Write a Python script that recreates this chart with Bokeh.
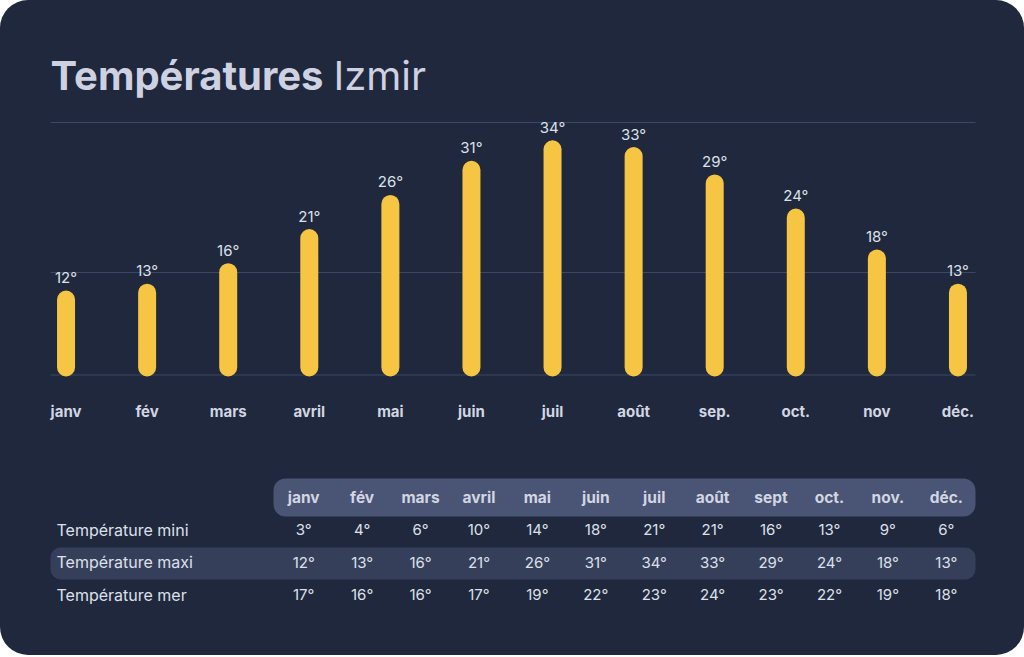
from bokeh.plotting import figure
from bokeh.layouts import column
from bokeh.models import Range1d, FactorRange
from bokeh.core.properties import value
from bokeh.embed import file_html
from bokeh.resources import INLINE

# ---------------- data ----------------
title_bold = "Températures"
title_city = "Izmir"
months = ["janv", "fév", "mars", "avril", "mai", "juin", "juil", "août", "sep.", "oct.", "nov", "déc."]
temp_max = [12, 13, 16, 21, 26, 31, 34, 33, 29, 24, 18, 13]
table_months = ["janv", "fév", "mars", "avril", "mai", "juin", "juil", "août", "sept", "oct.", "nov.", "déc."]
temp_min = [3, 4, 6, 10, 14, 18, 21, 21, 16, 13, 9, 6]
temp_sea = [17, 16, 16, 17, 19, 22, 23, 24, 23, 22, 19, 18]
row_names = ["Température mini", "Température maxi", "Température mer"]

# ---------------- style ----------------
FONT = "Inter"
BG = "#1f283c"
GRID = "#3b4764"
YELLOW = "#f5c543"
TITLE_C = "#cdd1e1"
TXT = "#dde0ea"
HEAD_BAND = "#4a5474"
MAXI_BAND = "#363f5a"

W = 1024
CH = 445          # chart figure height
TH = 210          # table figure height
L, R = 25, 26     # side borders (frames aligned by the column)
step = (W - L - R) / len(months)
base_py = 372     # page y of 0 degrees
ppd = 6.83        # pixels per degree


def cx(px):
    return (px - L) / step


def cy(py):
    return (base_py - py) / ppd


common = dict(output_backend="svg", toolbar_location=None,
              x_axis_location=None, y_axis_location=None,
              background_fill_alpha=0, border_fill_alpha=0,
              outline_line_color=None, min_border_top=0, min_border_bottom=0,
              min_border_left=L, min_border_right=R)

pA = figure(width=W, height=CH, x_range=FactorRange(factors=months),
            y_range=Range1d(cy(CH), cy(0)), **common)
pA.xgrid.visible = False
pA.ygrid.visible = False

# grid lines
gy = [cy(374.5), cy(272), cy(122)]
pA.segment(x0=[cx(50)] * 3, x1=[cx(975)] * 3, y0=gy, y1=gy,
           line_color=GRID, line_width=1.2)

# bars
pA.vbar(x=months, top=temp_max, bottom=cy(376), width=18 / step,
        fill_color=YELLOW, line_color=None, border_radius=9)

# value labels
pA.text(x=months, y=temp_max, text=[f"{v}°" for v in temp_max],
        text_align="center", text_baseline="middle", y_offset=-13,
        text_font=value(FONT), text_font_size="15px", text_color=TXT)

# month labels
pA.text(x=months, y=[cy(411)] * len(months), text=months,
        text_align="center", text_baseline="middle",
        text_font=value(FONT), text_font_size="15px", text_font_style="bold",
        text_color="#d2d6e3")

# title
pA.text(x=[cx(50)], y=[cy(75)], text=[title_bold], text_align="left",
        text_baseline="middle", text_font=value(FONT), text_font_size="40px",
        text_font_style="bold", text_color=TITLE_C)
pA.text(x=[cx(333)], y=[cy(75)], text=[title_city], text_align="left",
        text_baseline="middle", text_font=value(FONT), text_font_size="40px",
        text_color=TITLE_C)

# ---------------- table ----------------
col_l = 274
col_w = (975 - col_l) / len(table_months)
row0 = 497
row_h = (594 - row0) / 3


def tx(px):
    return (px - col_l) / col_w


def ty(py):
    return (py - row0) / row_h


pB = figure(width=W, height=TH, x_range=Range1d(tx(L), tx(W - R)),
            y_range=Range1d(ty(CH + TH), ty(CH)), **common)
pB.xgrid.visible = False
pB.ygrid.visible = False

pB.quad(left=[tx(273)], right=[tx(975)], top=[ty(478)], bottom=[ty(516)],
        fill_color=HEAD_BAND, line_color=None, border_radius=12)
pB.quad(left=[tx(50)], right=[tx(975)], top=[ty(547)], bottom=[ty(579)],
        fill_color=MAXI_BAND, line_color=None, border_radius=10)

col_x = [i + 0.5 for i, _ in enumerate(table_months)]
pB.text(x=col_x, y=[0] * len(col_x), text=table_months, text_align="center",
        text_baseline="middle", text_font=value(FONT), text_font_size="15.5px",
        text_font_style="bold", text_color="#d2d6e3")

for r, vals in enumerate([temp_min, temp_max, temp_sea], start=1):
    pB.text(x=col_x, y=[r] * len(col_x), text=[f"{v}°" for v in vals],
            text_align="center", text_baseline="middle",
            text_font=value(FONT), text_font_size="15px", text_color=TXT)

pB.text(x=[tx(56)] * 3, y=[1, 2, 3], text=row_names, text_align="left",
        text_baseline="middle", text_font=value(FONT), text_font_size="16px",
        text_color=TXT)

layout = column(pA, pB, spacing=0,
                styles={"background-color": BG, "border-radius": "28px"})

open("out.html", "w").write(file_html(layout, INLINE))
